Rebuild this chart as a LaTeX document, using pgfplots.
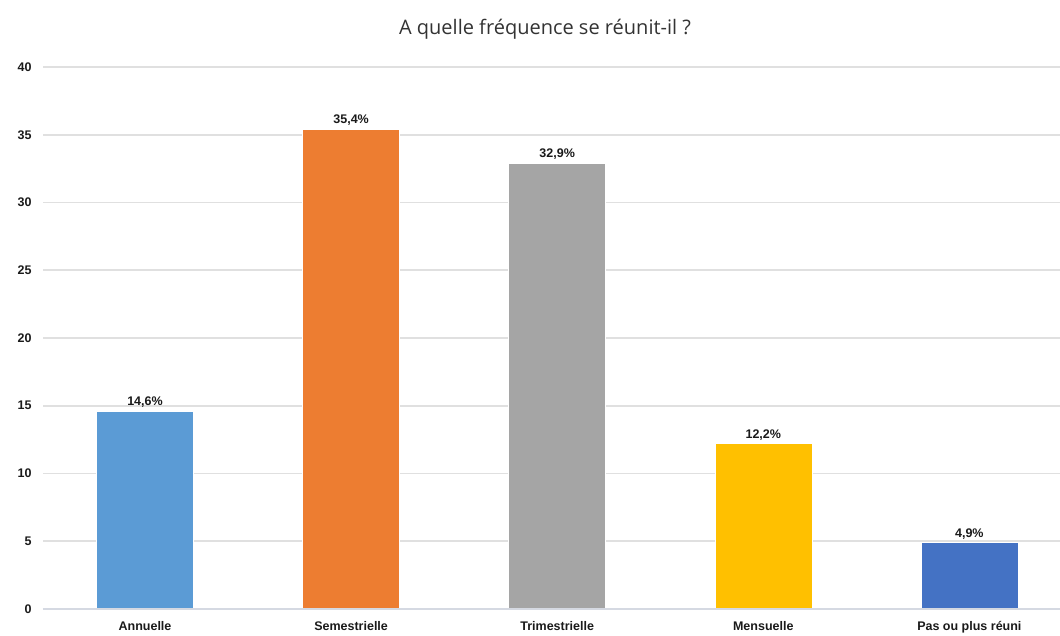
\documentclass[border=0pt]{standalone}
\usepackage{pgfplots}
\pgfplotsset{compat=1.18}
\usepackage{fontspec}
\setmainfont{Liberation Sans}
\newfontfamily\titlefont{Open Sans}
\definecolor{cA}{HTML}{5B9BD5}
\definecolor{cB}{HTML}{ED7D31}
\definecolor{cC}{HTML}{A5A5A5}
\definecolor{cD}{HTML}{FFC000}
\definecolor{cE}{HTML}{4472C4}
\definecolor{gridc}{HTML}{E0E0E0}
\definecolor{axc}{HTML}{D5D9E2}
\definecolor{txt}{HTML}{1A1A1A}
\begin{document}
\begin{tikzpicture}[x=1pt,y=1pt]
\useasboundingbox (0,0) rectangle (1060,635);
\node[font=\titlefont\fontsize{20}{24}\selectfont, text=black!80] at (545,606) {A quelle fréquence se réunit-il ?};
\begin{axis}[
  at={(43pt,26pt)}, anchor=south west,
  scale only axis, width=1017pt, height=542pt,
  xmin=-0.495, xmax=4.44, ymin=0, ymax=40,
  ytick={0,5,...,40},
  xtick={0,1,2,3,4},
  xticklabels={Annuelle,Semestrielle,Trimestrielle,Mensuelle,Pas ou plus réuni},
  ymajorgrids, grid style={gridc, line width=1.8pt},
  axis line style={draw=none},
  axis x line*=bottom,
  major tick length=0pt,
  tick label style={font=\bfseries\fontsize{12.5}{14}\selectfont, text=txt},
  /pgf/number format/assume math mode=true,
  yticklabel style={xshift=-8pt},
  xticklabel style={yshift=-9pt},
  ybar, bar width=97pt, bar shift=0pt,
  point meta=explicit symbolic,
  nodes near coords,
  nodes near coords style={font=\bfseries\fontsize{12.5}{14}\selectfont, text=txt, yshift=0pt},
  clip=false,
]
\addplot[fill=cA, draw=white, line width=0.5pt] coordinates {(0,14.6) [14,6\%]};
\addplot[fill=cB, draw=white, line width=0.5pt] coordinates {(1,35.4) [35,4\%]};
\addplot[fill=cC, draw=white, line width=0.5pt] coordinates {(2,32.9) [32,9\%]};
\addplot[fill=cD, draw=white, line width=0.5pt] coordinates {(3,12.2) [12,2\%]};
\addplot[fill=cE, draw=white, line width=0.5pt] coordinates {(4,4.9) [4,9\%]};
\draw[axc, line width=1.8pt] (axis cs:-0.495,0) -- (axis cs:4.44,0);
\end{axis}
\end{tikzpicture}
\end{document}
